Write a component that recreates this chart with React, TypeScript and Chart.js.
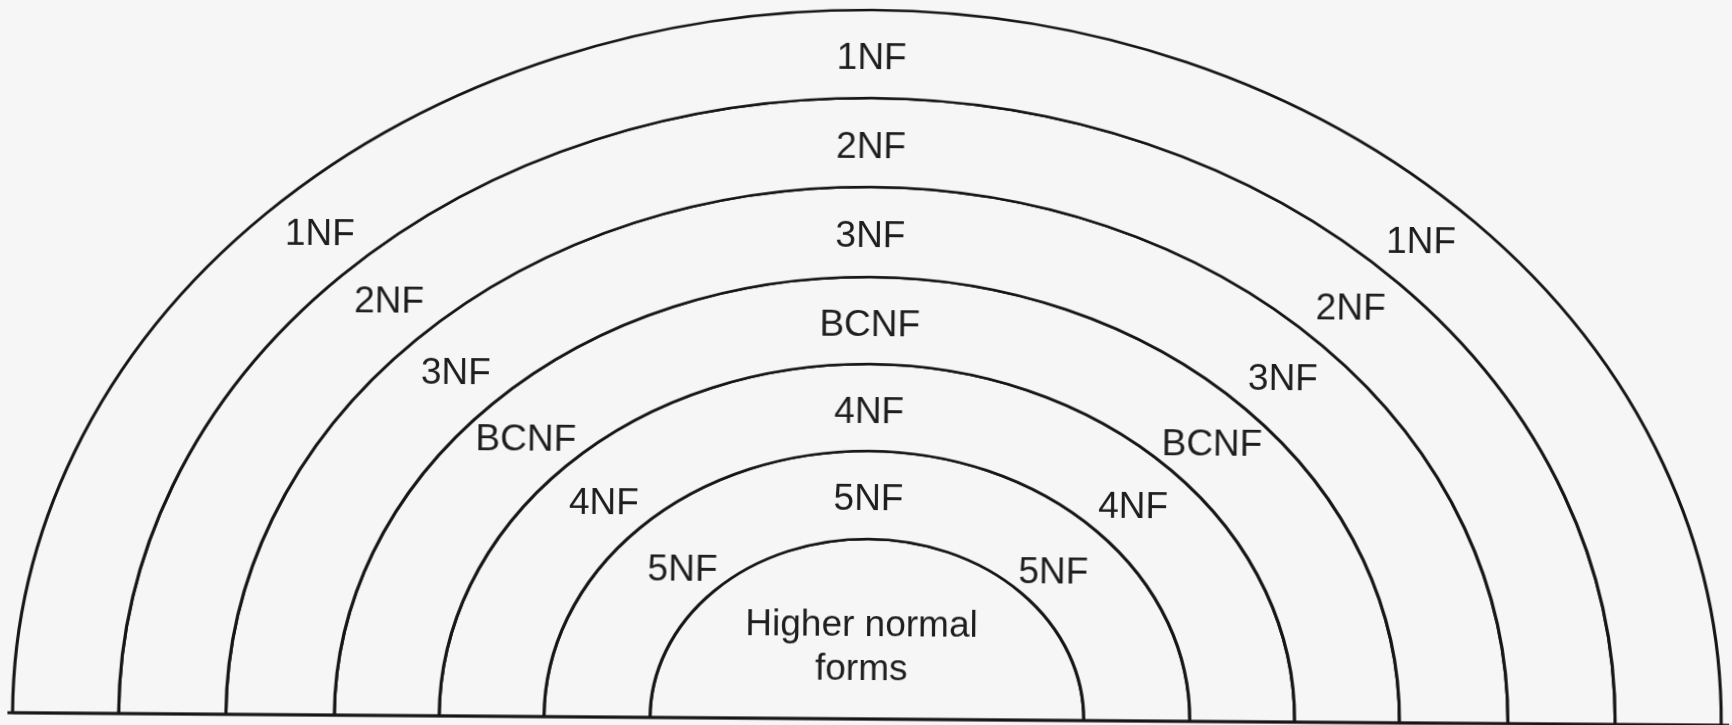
import React, { useEffect, useRef } from 'react';
import { Chart, registerables } from 'chart.js';

Chart.register(...registerables);

// Rings from the outside in
const ringLabels = ['1NF', '2NF', '3NF', 'BCNF', '4NF', '5NF'];
const coreLabel = ['Higher normal', 'forms'];
// Radial thickness of each band (outer ring first, the core half-disc last)
const ringThickness = [88, 89, 90, 87, 87, 88, 180];
// Each band spans the whole half circle
const ringValues = [1, 1, 1, 1, 1, 1, 1];

// ---- layout / style constants (not data) ----
const STRETCH = 1.205; // horizontal stretch turning circles into the drawn ellipses
const SIDE_ANGLE = [46.6, 46.2, 45.2, 44.4, 44.6, 44.3]; // side label angle above baseline, per ring
const SIDE_RADIUS = [1, 1, 1, 1, 0.99, 0.96]; // side label radial position, fraction of ring middle
const TILT_DEG = 0.42; // the scanned original is slightly rotated
const INK = '#161616';
const TEXT = '#1e1e1e';
const PAPER = '#f6f6f6';
const FONT = '37px "Liberation Sans", Arial, Helvetica, sans-serif';
const TEXT_DY = 3;

export default function App() {
  const ref = useRef<HTMLCanvasElement>(null);

  useEffect(() => {
    const canvas = ref.current;
    if (!canvas) return;

    const stretchPlugin = {
      id: 'ellipseStretch',
      beforeDatasetsDraw(chart: any) {
        const arc: any = chart.getDatasetMeta(0).data[0];
        const ctx = chart.ctx;
        ctx.save();
        ctx.translate(arc.x, 0);
        ctx.scale(STRETCH, 1);
        ctx.translate(-arc.x, 0);
      },
      afterDatasetsDraw(chart: any) {
        const ctx = chart.ctx;
        ctx.restore();
        const arc0: any = chart.getDatasetMeta(0).data[0];
        const cx = arc0.x;
        const cy = arc0.y;

        // baseline
        ctx.save();
        ctx.strokeStyle = INK;
        ctx.lineWidth = 3;
        ctx.beginPath();
        ctx.moveTo(10, cy);
        ctx.lineTo(chart.width, cy);
        ctx.stroke();
        ctx.restore();

        // labels
        ctx.save();
        ctx.fillStyle = TEXT;
        ctx.font = FONT;
        ctx.textAlign = 'center';
        ctx.textBaseline = 'middle';
        ringLabels.forEach((label, i) => {
          const arc: any = chart.getDatasetMeta(i).data[0];
          const mid = (arc.innerRadius + arc.outerRadius) / 2;
          // top
          ctx.fillText(label, cx, cy - mid + 2 + TEXT_DY);
          // sides
          const t = (SIDE_ANGLE[i] * Math.PI) / 180;
          const r = mid * SIDE_RADIUS[i];
          const dx = STRETCH * r * Math.cos(t);
          const y = cy - r * Math.sin(t) + TEXT_DY;
          ctx.fillText(label, cx - dx, y);
          ctx.fillText(label, cx + dx, y);
        });
        const core: any = chart.getDatasetMeta(ringLabels.length).data[0];
        const rc = core.outerRadius;
        ctx.fillText(coreLabel[0], cx - 6, cy - 0.533 * rc + TEXT_DY);
        ctx.fillText(coreLabel[1], cx - 6, cy - 0.29 * rc + TEXT_DY);
        ctx.restore();
      },
    };

    const datasets = ringThickness.map((w, i) => ({
      label: i < ringLabels.length ? ringLabels[i] : coreLabel.join(' '),
      data: [ringValues[i]],
      weight: w,
      backgroundColor: PAPER,
      borderColor: INK,
      borderWidth: 2.6,
    }));

    const totalRadius = ringThickness.reduce((s, v) => s + v, 0);

    const chart = new Chart(canvas, {
      type: 'doughnut',
      data: {
        labels: ['band'],
        datasets,
      },
      options: {
        animation: false,
        responsive: true,
        maintainAspectRatio: false,
        events: [],
        rotation: -90,
        circumference: 180,
        cutout: 0,
        radius: totalRadius,
        layout: { padding: { top: 10, bottom: 6, left: 7, right: 0 } },
        plugins: {
          legend: { display: false },
          tooltip: { enabled: false },
        },
      } as any,
      plugins: [stretchPlugin],
    });

    return () => chart.destroy();
  }, []);

  return (
    <div
      style={{
        position: 'absolute',
        left: 0,
        top: 0,
        width: 1732,
        height: 725,
        overflow: 'hidden',
        background: PAPER,
      }}
    >
      <div
        style={{
          width: 1732,
          height: 725,
          transform: `rotate(${TILT_DEG}deg)`,
          transformOrigin: '50% 50%',
        }}
      >
        <canvas ref={ref} />
      </div>
    </div>
  );
}
